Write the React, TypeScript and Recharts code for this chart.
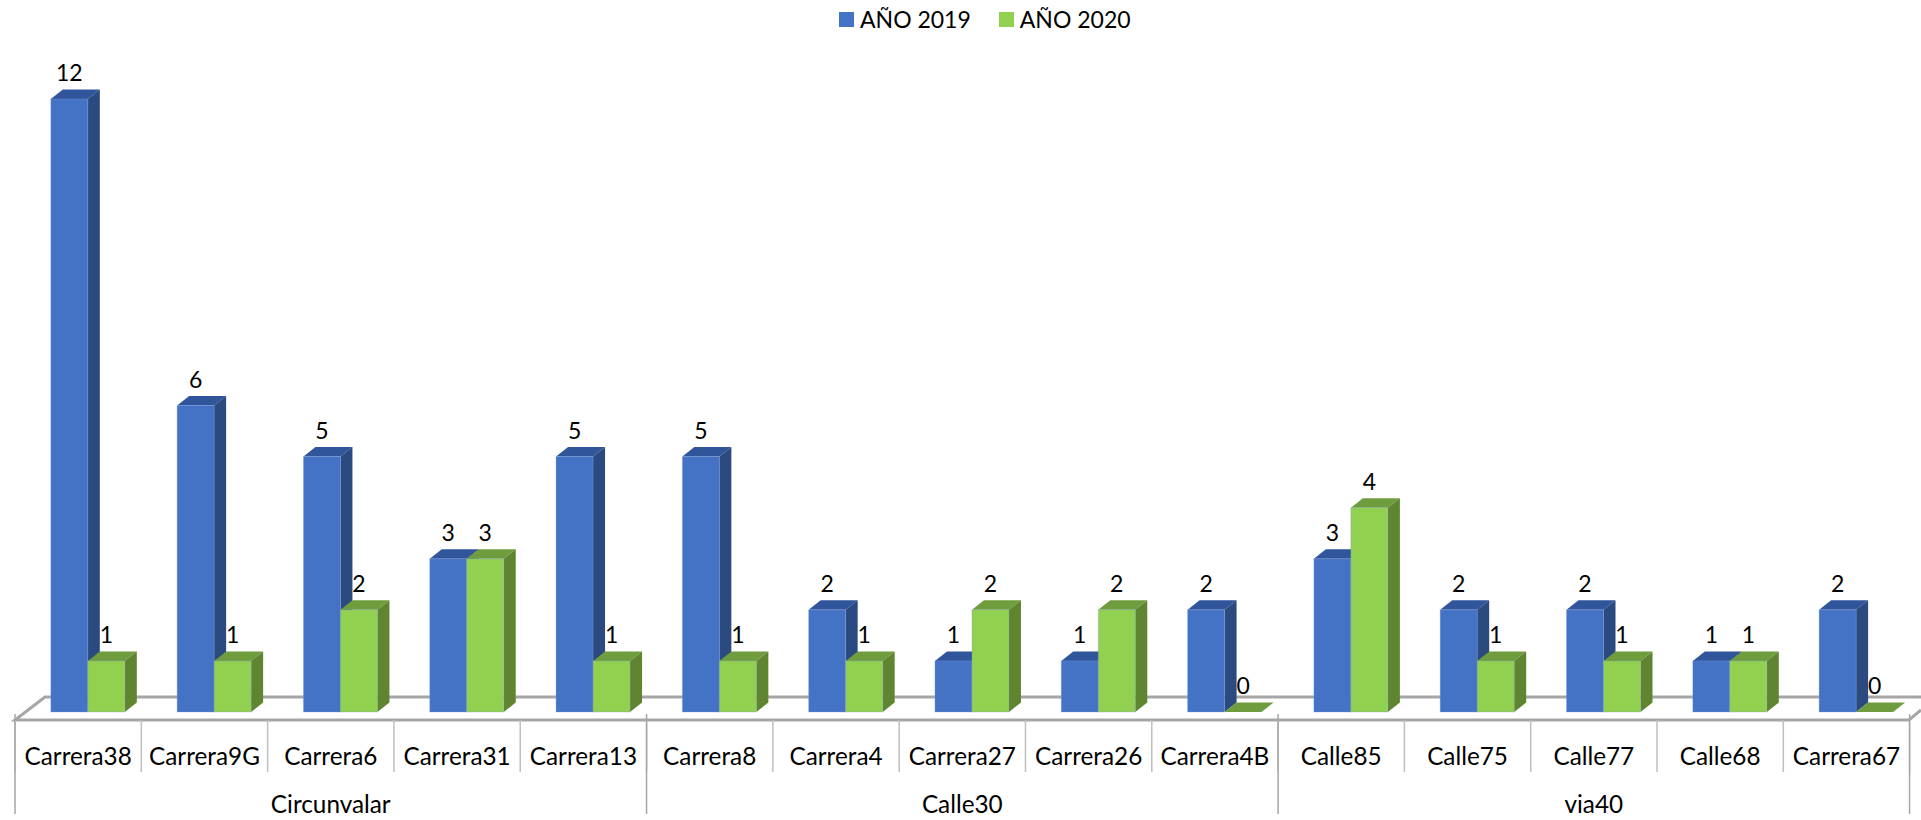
import React from 'react';
import { BarChart, Bar, XAxis, YAxis, Legend, LabelList } from 'recharts';

const streets = ['Carrera38','Carrera9G','Carrera6','Carrera31','Carrera13','Carrera8','Carrera4','Carrera27','Carrera26','Carrera4B','Calle85','Calle75','Calle77','Calle68','Carrera67'];
const groups = ['Circunvalar','Circunvalar','Circunvalar','Circunvalar','Circunvalar','Calle30','Calle30','Calle30','Calle30','Calle30','via40','via40','via40','via40','via40'];
const serie2019 = [12,6,5,3,5,5,2,1,1,2,3,2,2,1,2];
const serie2020 = [1,1,2,3,1,1,1,2,2,0,4,1,1,1,0];
const rows = streets.map((s,i)=>({street:s,group:groups[i],y2019:serie2019[i],y2020:serie2020[i]}));

const FONT = 'Lato, sans-serif';
const FS = 24.3;
const FS_VAL = 23;
const FS_LEG = 23;
const DX = 12, DY = 9.5, SHIFT = 9.3, BAND = 126.27;
const GRAY = '#a6a6a6', LIGHT = '#bfbfbf';

const Box = (front:string, top:string, side:string) => (p:any) => {
  const {x,y,width,height} = p;
  const b = y+height;
  return <g>
    <polygon points={`${x},${y} ${x+DX},${y-DY} ${x+width+DX},${y-DY} ${x+width},${y}`} fill={top}/>
    {height>0 && <polygon points={`${x+width},${y} ${x+width+DX},${y-DY} ${x+width+DX},${b-DY} ${x+width},${b}`} fill={side}/>}
    {height>0 && <rect x={x} y={y} width={width} height={height} fill={front} stroke="#7f9fdc" strokeOpacity={0.35} strokeWidth={1}/>}
  </g>;
};

const valueLabel = (p:any) => {
  const {x,y,width,value} = p;
  return <text x={x+width/2} y={y-27} textAnchor="middle" dominantBaseline="central" fontFamily={FONT} fontSize={FS_VAL} fill="#000">{value}</text>;
};

const StreetTick = (p:any) => {
  const {x,y,payload,index} = p;
  const cx = x-SHIFT;
  const yTop = y;
  return <g>
    <line x1={cx-BAND/2} x2={cx-BAND/2} y1={yTop} y2={yTop+52} stroke={LIGHT} strokeWidth={1.5}/>
    {index===streets.length-1 && <line x1={cx+BAND/2} x2={cx+BAND/2} y1={yTop} y2={yTop+52} stroke={LIGHT} strokeWidth={1.5}/>}
    <text x={cx} y={yTop+35} textAnchor="middle" dominantBaseline="central" fontFamily={FONT} fontSize={FS} fill="#000">{payload.value}</text>
  </g>;
};

const GroupTick = (p:any) => {
  const {x,y,payload,index} = p;
  const cx = x-SHIFT;
  const isFirst = index%5===0;
  const isMid = index%5===2;
  return <g>
    {isFirst && <line x1={cx-BAND/2} x2={cx-BAND/2} y1={y-52} y2={y+48} stroke={GRAY} strokeWidth={1.5}/>}
    {index===streets.length-1 && <line x1={cx+BAND/2} x2={cx+BAND/2} y1={y-52} y2={y+48} stroke={GRAY} strokeWidth={1.5}/>}
    {isMid && <text x={cx} y={y+37} textAnchor="middle" dominantBaseline="central" fontFamily={FONT} fontSize={FS} fill="#000">{payload.value}</text>}
  </g>;
};

const Floor = () => (
  <g fill="none" stroke={GRAY} strokeWidth={3}>
    <polyline points="1921,697 45,697 15,720 1909,720 1921,710"/>
  </g>
);

const LegendBox = ({payload}:any) => (
  <div style={{display:'flex',alignItems:'center',gap:28,fontFamily:FONT,fontSize:FS_LEG,color:'#000',lineHeight:'30px',whiteSpace:'nowrap'}}>
    {(payload||[]).map((e:any)=>(
      <span key={e.value} style={{display:'inline-flex',alignItems:'center',gap:6}}>
        <span style={{display:'inline-block',width:15,height:15,background:e.color}}/>
        {e.value}
      </span>
    ))}
  </div>
);

export default function App(){
  return <div style={{position:'absolute',left:0,top:0,width:1921,height:820,overflow:'hidden',background:'#fff'}}>
    <BarChart width={1921} height={820} data={rows} barGap={0} barCategoryGap="21%"
      margin={{top:69,right:2.1,bottom:0,left:24.3}}>
      <Floor/>
      <YAxis hide domain={[0,12]}/>
      <XAxis dataKey="street" interval={0} height={54} axisLine={false} tickLine={false} tickSize={0} tickMargin={8} tick={StreetTick}/>
      <XAxis xAxisId="group" dataKey="group" interval={0} height={54} axisLine={false} tickLine={false} tickSize={0} tickMargin={0} tick={GroupTick}/>
      <Legend verticalAlign="top" height={0} content={<LegendBox/>}
        wrapperStyle={{top:4,left:839,width:'auto'}}/>
      <Bar dataKey="y2019" name="AÑO 2019" fill="#4472C4" isAnimationActive={false} shape={Box('#4472C4','#30559a','#2a4a80')}>
        <LabelList dataKey="y2019" content={valueLabel}/>
      </Bar>
      <Bar dataKey="y2020" name="AÑO 2020" fill="#92D050" isAnimationActive={false} shape={Box('#92D050','#6f9d3d','#5f8530')}>
        <LabelList dataKey="y2020" content={valueLabel}/>
      </Bar>
    </BarChart>
  </div>;
}
